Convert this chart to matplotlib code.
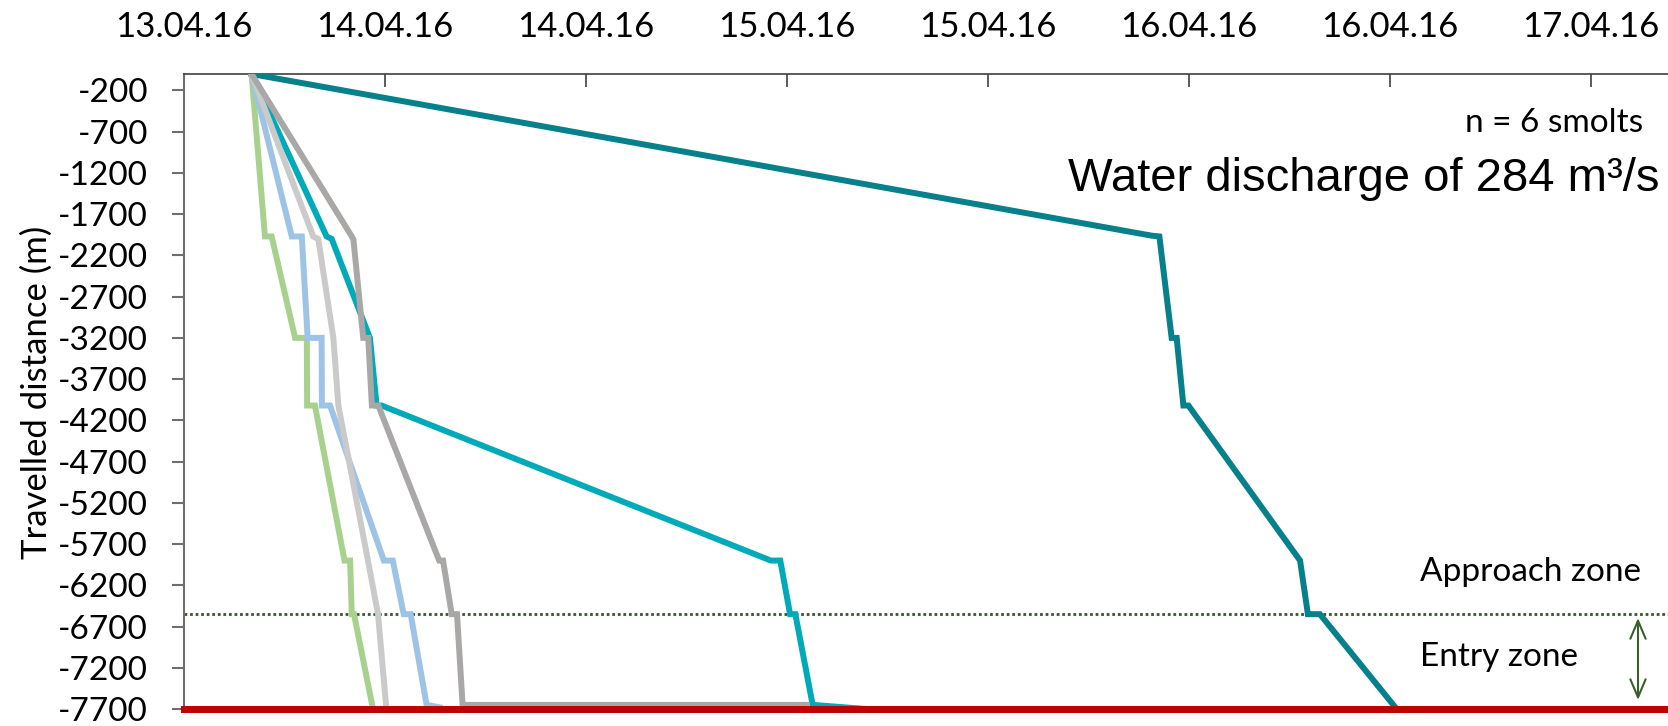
import matplotlib
matplotlib.use("Agg")
import matplotlib.pyplot as plt
import matplotlib.dates as mdates
import pandas as pd

# detections per tagged smolt: time and travelled distance from release (m)
teal_dark_t = ["2016-04-13 16:02", "2016-04-15 21:46", "2016-04-15 22:14", "2016-04-15 22:58",
               "2016-04-15 23:16", "2016-04-15 23:40", "2016-04-15 23:58", "2016-04-16 06:38",
               "2016-04-16 07:06", "2016-04-16 07:49", "2016-04-16 12:24"]
teal_dark_d = [0, -1960, -1970, -3200, -3200, -4020, -4020, -5900, -6550, -6550, -7700]

teal_t = ["2016-04-13 16:02", "2016-04-13 20:31", "2016-04-13 20:49", "2016-04-13 23:06",
          "2016-04-13 23:30", "2016-04-13 23:48", "2016-04-14 23:02", "2016-04-14 23:36",
          "2016-04-15 00:11", "2016-04-15 00:30", "2016-04-15 01:32", "2016-04-15 04:44"]
teal_d = [0, -1970, -2000, -3200, -4020, -4020, -5900, -5900, -6550, -6550, -7650, -7700]

green_t = ["2016-04-13 16:02", "2016-04-13 16:50", "2016-04-13 17:14", "2016-04-13 18:38",
           "2016-04-13 19:20", "2016-04-13 19:21", "2016-04-13 19:49", "2016-04-13 21:35",
           "2016-04-13 21:55", "2016-04-13 22:01", "2016-04-13 22:09", "2016-04-13 23:17"]
green_d = [0, -1970, -1970, -3200, -3200, -4020, -4020, -5900, -5900, -6550, -6550, -7700]

blue_t = ["2016-04-13 16:02", "2016-04-13 18:26", "2016-04-13 19:02", "2016-04-13 19:23",
          "2016-04-13 20:13", "2016-04-13 20:14", "2016-04-13 20:43", "2016-04-13 23:56",
          "2016-04-14 00:28", "2016-04-14 01:07", "2016-04-14 01:32", "2016-04-14 02:29",
          "2016-04-14 03:16"]
blue_d = [0, -1970, -1970, -3200, -3200, -4020, -4020, -5900, -5900, -6550, -6550, -7650, -7680]

grey_light_t = ["2016-04-13 16:02", "2016-04-13 19:43", "2016-04-13 20:01", "2016-04-13 20:55",
                "2016-04-13 21:13", "2016-04-13 22:59", "2016-04-13 23:35", "2016-04-14 00:05"]
grey_light_d = [0, -1970, -2000, -3200, -4020, -5900, -6550, -7700]

grey_t = ["2016-04-13 16:02", "2016-04-13 22:01", "2016-04-13 22:07", "2016-04-13 22:42",
          "2016-04-13 23:00", "2016-04-13 23:13", "2016-04-13 23:36", "2016-04-14 03:14",
          "2016-04-14 03:28", "2016-04-14 03:59", "2016-04-14 04:18", "2016-04-14 04:38",
          "2016-04-15 01:11"]
grey_d = [0, -1970, -2010, -3200, -3200, -4020, -4020, -5900, -5900, -6550, -6550, -7650, -7650]

tracks = [
    (teal_dark_t, teal_dark_d, "#06808A"),
    (teal_t, teal_d, "#00AAB8"),
    (green_t, green_d, "#A9D18E"),
    (blue_t, blue_d, "#9DC3E6"),
    (grey_light_t, grey_light_d, "#CACACA"),
    (grey_t, grey_d, "#AAA7A7"),
]

entry_line = -6550      # border approach / entry zone
turbine_line = -7700    # end of the entry zone
y_ticks = list(range(-200, -7701, -500))

W, H = 1668, 726
fig = plt.figure(figsize=(W / 100, H / 100), dpi=100)
ax = fig.add_axes([184 / W, (H - 709) / H, 1 - 184 / W, (709 - 74) / H])

tick_font = "Lato"

for t, d, c in tracks:
    ax.plot(pd.to_datetime(t), d, color=c, lw=4.3, solid_joinstyle="miter", zorder=3)

ax.axhline(entry_line, color="#38562A", lw=2.0, ls=(0, (1, 1)), zorder=2)
ax.axhline(turbine_line, color="#C00000", lw=5, zorder=4, clip_on=False)

ax.set_xlim(pd.Timestamp("2016-04-13 12:00"), pd.Timestamp("2016-04-17 04:36"))
ax.set_ylim(-7700, 0)

ax.xaxis.tick_top()
ax.xaxis.set_major_locator(mdates.HourLocator(byhour=[0, 12]))
ax.xaxis.set_major_formatter(mdates.DateFormatter("%d.%m.%y"))
ax.tick_params(axis="x", direction="in", length=9, width=1.2, color="#404040", pad=22,
               labelsize=25)
ax.set_yticks(y_ticks)
ax.set_yticklabels([str(v) for v in y_ticks])
ax.tick_params(axis="y", direction="out", length=9, width=1.5, color="#6E6E6E", pad=17,
               labelsize=24)
for lab in ax.get_xticklabels() + ax.get_yticklabels():
    lab.set_family(tick_font)

for s in ["right", "bottom"]:
    ax.spines[s].set_visible(False)
ax.spines["top"].set_color("#404040")
ax.spines["top"].set_linewidth(1.2)
ax.spines["left"].set_color("#6E6E6E")
ax.spines["left"].set_linewidth(1.5)

fig.text(37 / W, 1 - 392 / H, "Travelled distance (m)", rotation=90, ha="center", va="center",
         fontsize=25, family=tick_font)
fig.text(1643 / W, 1 - 123 / H, "n = 6 smolts", ha="right", va="center", fontsize=24,
         family=tick_font)
fig.text(1660 / W, 1 - 179 / H, "Water discharge of 284 m³/s", ha="right", va="center",
         fontsize=34, family="Liberation Sans")
fig.text(1420 / W, 1 - 572 / H, "Approach zone", ha="left", va="center", fontsize=24,
         family=tick_font)
fig.text(1420 / W, 1 - 657 / H, "Entry zone", ha="left", va="center", fontsize=24,
         family=tick_font)

# entry zone extent
ax.annotate("", xy=(1638 / W, 1 - 700 / H), xytext=(1638 / W, 1 - 618 / H),
            xycoords="figure fraction", textcoords="figure fraction",
            arrowprops=dict(arrowstyle="<->,head_length=1.3,head_width=0.55",
                            color="#3A5F2A", lw=1.5, shrinkA=0, shrinkB=0))

fig.savefig("out.png", dpi=100)
